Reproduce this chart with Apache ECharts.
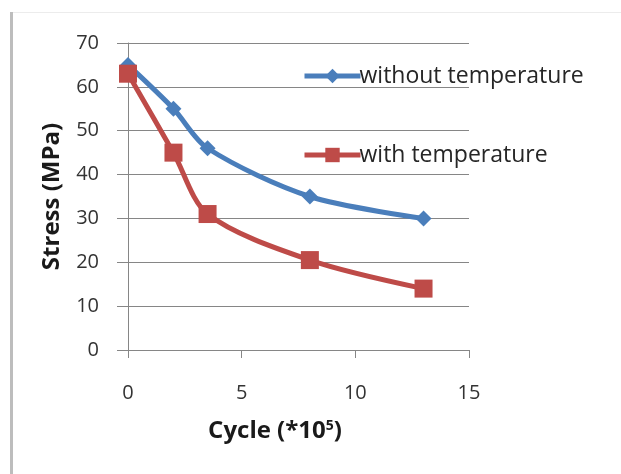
<!DOCTYPE html>
<html>
<head>
<meta charset="utf-8">
<script src="https://cdn.jsdelivr.net/npm/echarts@6/dist/echarts.min.js"></script>
<style>html,body{margin:0;padding:0;background:#fff}#c{width:621px;height:474px}</style>
</head>
<body>
<div id="c"></div>
<script>
const cyclesWithout = [0, 2, 3.5, 8, 13];
const stressWithout = [65, 55, 46, 35, 30];
const cyclesWith = [0, 2, 3.5, 8, 13];
const stressWith = [63, 45, 31, 20.5, 14];
const seriesNames = ['without temperature', 'with temperature'];
const xTitle = 'Cycle (*10';
const yTitle = 'Stress (MPa)';

const pairs = (xs, ys) => xs.map((x, i) => [x, ys[i]]);
const FONT = '"Open Sans", sans-serif';

const chart = echarts.init(document.getElementById('c'));
chart.setOption({
  animation: false,
  backgroundColor: '#fff',
  grid: { left: 128, right: 152, top: 43, bottom: 124 },
  legend: {
    orient: 'vertical',
    left: 297, top: 59,
    itemGap: 55,
    itemWidth: 56, itemHeight: 18,
    lineStyle: { width: 5 },
    textStyle: { fontFamily: FONT, fontSize: 23, lineHeight: 24, color: '#262626', padding: [0,0,0,-6] },
    data: seriesNames
  },
  xAxis: {
    type: 'value', min: 0, max: 15, interval: 5,
    axisLine: { show: true, onZero: false, lineStyle: { color: '#868686', width: 1 } },
    axisTick: { show: true, length: 8, lineStyle: { color: '#868686' } },
    splitLine: { show: false },
    axisLabel: { fontFamily: FONT, fontSize: 20, color: '#333', margin: 33 },
    name: '{a|' + xTitle + '}{s|5}{a|)}',
    nameLocation: 'middle', nameGap: 69,
    nameTextStyle: {
      padding: [0, 47, 0, 0],
      rich: {
        a: { fontFamily: FONT, fontSize: 24, fontWeight: 'bold', color: '#1a1a1a' },
        s: { fontFamily: FONT, fontSize: 14, fontWeight: 'bold', color: '#1a1a1a', verticalAlign: 'top', padding: [0,0,10,0] }
      }
    }
  },
  yAxis: {
    type: 'value', min: 0, max: 70, interval: 10,
    axisLine: { show: true, lineStyle: { color: '#868686', width: 1 } },
    axisTick: { show: true, length: 11, lineStyle: { color: '#868686' } },
    splitLine: { show: true, lineStyle: { color: '#868686', width: 1 } },
    axisLabel: { fontFamily: FONT, fontSize: 20, color: '#333', margin: 29 },
    name: yTitle,
    nameLocation: 'middle', nameGap: 64, nameRotate: 90,
    nameTextStyle: { fontFamily: FONT, fontSize: 24, fontWeight: 'bold', color: '#1a1a1a' }
  },
  graphic: [
    { type: 'rect', shape: { x: 10, y: 12, width: 3, height: 462 }, style: { fill: '#bdbdbd' } },
    { type: 'line', shape: { x1: 13, y1: 12.5, x2: 621, y2: 12.5 }, style: { stroke: '#ececec', lineWidth: 1 } }
  ],
  series: [
    {
      name: seriesNames[0], type: 'line', smooth: 0.3,
      data: pairs(cyclesWithout, stressWithout),
      symbol: 'diamond', symbolSize: 16,
      lineStyle: { color: '#4a7ebb', width: 5 },
      itemStyle: { color: '#4a7ebb' }
    },
    {
      name: seriesNames[1], type: 'line', smooth: 0.3,
      data: pairs(cyclesWith, stressWith),
      symbol: 'rect', symbolSize: 18,
      lineStyle: { color: '#be4b48', width: 5 },
      itemStyle: { color: '#be4b48' }
    }
  ]
});
</script>
</body>
</html>
